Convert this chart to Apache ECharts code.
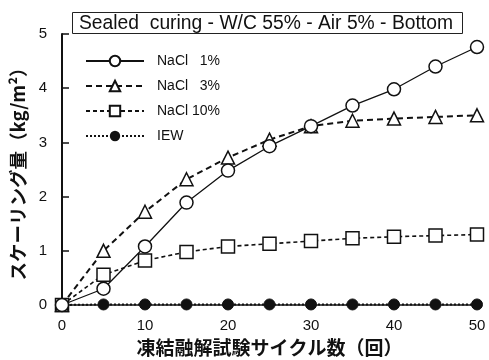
<!DOCTYPE html>
<html><head><meta charset="utf-8">
<script src="https://cdn.jsdelivr.net/npm/echarts@6/dist/echarts.min.js"></script>
<style>html,body{margin:0;padding:0;background:#fff}#c{width:489px;height:360px}</style>
</head><body><div id="c"></div>
<script>
const cycles = [0, 5, 10, 15, 20, 25, 30, 35, 40, 45, 50];
const nacl1 = [0, 0.30, 1.08, 1.89, 2.48, 2.93, 3.30, 3.68, 3.98, 4.40, 4.76];
const nacl3 = [0, 1.00, 1.72, 2.32, 2.72, 3.05, 3.30, 3.40, 3.44, 3.47, 3.50];
const nacl10 = [0, 0.56, 0.82, 0.98, 1.08, 1.13, 1.18, 1.23, 1.26, 1.28, 1.30];
const iew = [0, 0.01, 0.01, 0.01, 0.01, 0.01, 0.01, 0.01, 0.01, 0.01, 0.01];
const names = ['NaCl   1%', 'NaCl   3%', 'NaCl 10%', 'IEW'];
const titleText = 'Sealed  curing - W/C 55% - Air 5% - Bottom';
const xName = '凍結融解試験サイクル数（回）';
const yName = 'スケーリング量（kg/m²）';

const pair = arr => cycles.map((c, i) => [c, arr[i]]);
const chart = echarts.init(document.getElementById('c'), null, {renderer: 'canvas'});
const baseFont = 'Liberation Sans, Arial, sans-serif';
chart.setOption({
  animation: false,
  title: {
    text: titleText, left: 72, top: 12,
    borderColor: '#222', borderWidth: 1,
    padding: [2, 10, 1, 7],
    textStyle: {fontFamily: baseFont, fontSize: 19.3, fontWeight: 'normal', color: '#111'}
  },
  legend: {
    orient: 'vertical', left: 80, top: 49, itemWidth: 58, itemHeight: 13, itemGap: 11,
    textStyle: {fontFamily: baseFont, fontSize: 14, color: '#111', padding: [0, 0, 0, 8]},
    data: names
  },
  grid: {left: 62, right: 12, top: 34, bottom: 55, outerBoundsMode: 'none', containLabel: false},
  xAxis: {
    type: 'value', min: 0, max: 50, interval: 10,
    name: xName, nameLocation: 'middle', nameGap: 33,
    nameTextStyle: {fontFamily: 'Noto Sans CJK JP', fontWeight: 'bold', fontSize: 19, color: '#111'},
    axisLine: {lineStyle: {color: '#111', width: 1.5}},
    axisTick: {show: false},
    axisLabel: {fontFamily: baseFont, fontSize: 15, color: '#111', margin: 13},
    splitLine: {show: false}
  },
  yAxis: {
    type: 'value', min: 0, max: 5, interval: 1,
    name: yName, nameLocation: 'middle', nameGap: 35, nameRotate: 90,
    nameTextStyle: {fontFamily: 'Noto Sans CJK JP', fontWeight: 'bold', fontSize: 18.5, color: '#111'},
    axisLine: {show: true, lineStyle: {color: '#111', width: 2}},
    axisTick: {show: true, inside: true, length: 7, lineStyle: {color: '#111', width: 1.5}},
    axisLabel: {fontFamily: baseFont, fontSize: 15, color: '#111', margin: 15},
    splitLine: {show: false}
  },
  series: [
    {name: names[3], type: 'line', data: pair(iew), symbol: 'circle', symbolSize: 11, z: 2,
     lineStyle: {color: '#111', width: 2, type: [2, 2]}, itemStyle: {color: '#111', borderColor: '#111'}},
    {name: names[2], type: 'line', data: pair(nacl10), symbol: 'rect', symbolSize: 13, z: 3,
     lineStyle: {color: '#111', width: 1.6, type: [4, 3]}, itemStyle: {color: '#fff', borderColor: '#111', borderWidth: 1.5}},
    {name: names[1], type: 'line', data: pair(nacl3), symbol: 'triangle', symbolSize: 13, z: 4,
     lineStyle: {color: '#111', width: 2, type: [6, 4]}, itemStyle: {color: '#fff', borderColor: '#111', borderWidth: 1.5}},
    {name: names[0], type: 'line', data: pair(nacl1), symbol: 'circle', symbolSize: 13, z: 5,
     lineStyle: {color: '#111', width: 1.3}, itemStyle: {color: '#fff', borderColor: '#111', borderWidth: 1.5}}
  ]
});
</script></body></html>
